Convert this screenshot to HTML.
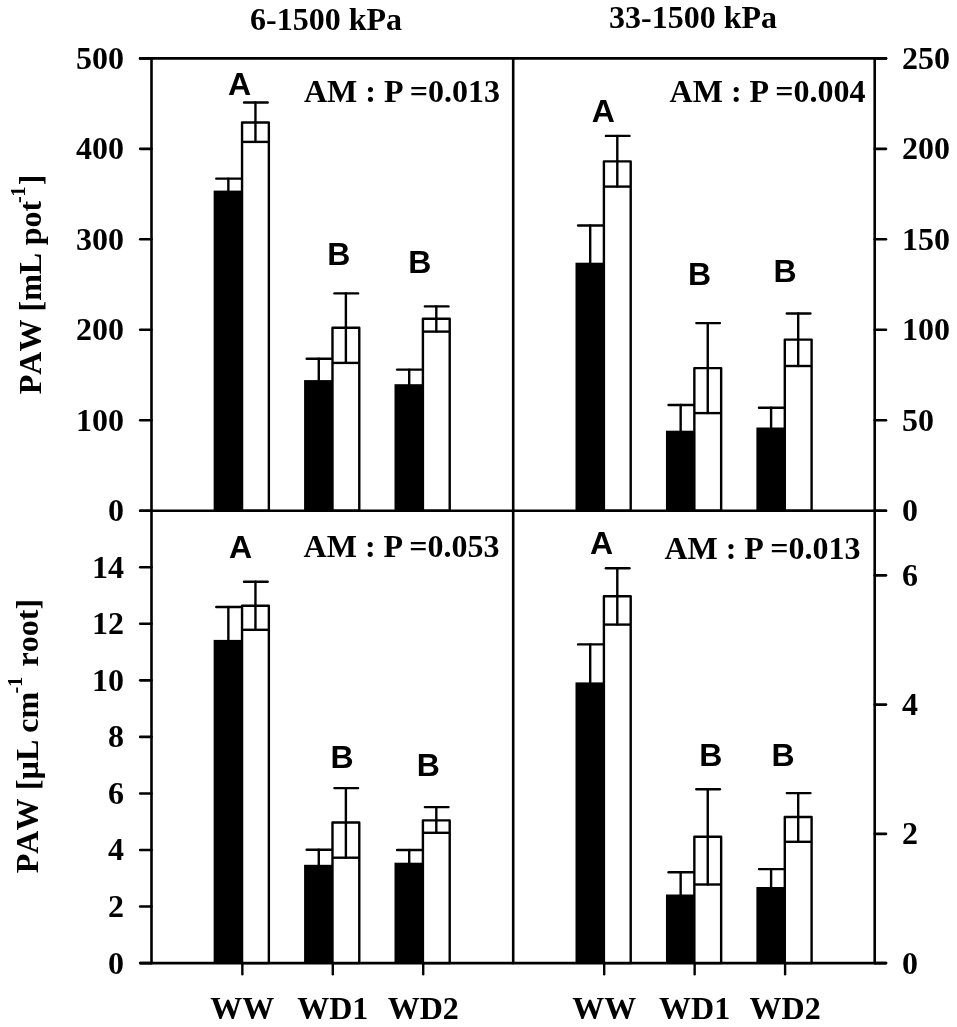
<!DOCTYPE html>
<html><head><meta charset="utf-8"><style>
html,body{margin:0;padding:0;background:#fff;width:957px;height:1027px;overflow:hidden}
svg{display:block;will-change:transform}
.sf{font-family:"Liberation Serif",serif;font-weight:bold;font-size:32px;fill:#000;stroke:none}
.nk{font-kerning:none}
.ss{font-family:"Liberation Sans",sans-serif;font-weight:bold;font-size:32px;fill:#000;stroke:none}
</style></head><body>
<svg width="957" height="1027" viewBox="0 0 957 1027" stroke="#000" fill="none">
<rect x="213.65" y="190.60" width="29.40" height="320.10" fill="#000" stroke="none"/>
<line x1="228.35" y1="191.60" x2="228.35" y2="178.60" stroke-width="2.4" stroke-linecap="round"/>
<line x1="216.25" y1="178.60" x2="242.05" y2="178.60" stroke-width="2.4" stroke-linecap="round"/>
<rect x="242.05" y="122.50" width="26.80" height="388.20" fill="#fff" stroke-width="2.4" stroke-linejoin="round"/>
<line x1="255.45" y1="102.50" x2="255.45" y2="141.90" stroke-width="2.4" stroke-linecap="round"/>
<line x1="244.05" y1="102.50" x2="267.65" y2="102.50" stroke-width="2.4" stroke-linecap="round"/>
<line x1="242.05" y1="141.90" x2="268.85" y2="141.90" stroke-width="2.4" stroke-linecap="butt"/>
<rect x="304.08" y="380.10" width="29.40" height="130.60" fill="#000" stroke="none"/>
<line x1="318.78" y1="381.10" x2="318.78" y2="358.80" stroke-width="2.4" stroke-linecap="round"/>
<line x1="306.68" y1="358.80" x2="332.48" y2="358.80" stroke-width="2.4" stroke-linecap="round"/>
<rect x="332.48" y="327.70" width="26.80" height="183.00" fill="#fff" stroke-width="2.4" stroke-linejoin="round"/>
<line x1="345.88" y1="293.40" x2="345.88" y2="362.90" stroke-width="2.4" stroke-linecap="round"/>
<line x1="334.48" y1="293.40" x2="358.08" y2="293.40" stroke-width="2.4" stroke-linecap="round"/>
<line x1="332.48" y1="362.90" x2="359.28" y2="362.90" stroke-width="2.4" stroke-linecap="butt"/>
<rect x="394.51" y="384.20" width="29.40" height="126.50" fill="#000" stroke="none"/>
<line x1="409.21" y1="385.20" x2="409.21" y2="369.60" stroke-width="2.4" stroke-linecap="round"/>
<line x1="397.11" y1="369.60" x2="422.91" y2="369.60" stroke-width="2.4" stroke-linecap="round"/>
<rect x="422.91" y="318.80" width="26.80" height="191.90" fill="#fff" stroke-width="2.4" stroke-linejoin="round"/>
<line x1="436.31" y1="306.40" x2="436.31" y2="331.60" stroke-width="2.4" stroke-linecap="round"/>
<line x1="424.91" y1="306.40" x2="448.51" y2="306.40" stroke-width="2.4" stroke-linecap="round"/>
<line x1="422.91" y1="331.60" x2="449.71" y2="331.60" stroke-width="2.4" stroke-linecap="butt"/>
<rect x="575.50" y="262.70" width="29.40" height="248.00" fill="#000" stroke="none"/>
<line x1="590.20" y1="263.70" x2="590.20" y2="225.50" stroke-width="2.4" stroke-linecap="round"/>
<line x1="578.10" y1="225.50" x2="603.90" y2="225.50" stroke-width="2.4" stroke-linecap="round"/>
<rect x="603.90" y="161.40" width="26.80" height="349.30" fill="#fff" stroke-width="2.4" stroke-linejoin="round"/>
<line x1="617.30" y1="135.90" x2="617.30" y2="186.60" stroke-width="2.4" stroke-linecap="round"/>
<line x1="605.90" y1="135.90" x2="629.50" y2="135.90" stroke-width="2.4" stroke-linecap="round"/>
<line x1="603.90" y1="186.60" x2="630.70" y2="186.60" stroke-width="2.4" stroke-linecap="butt"/>
<rect x="665.95" y="430.70" width="29.40" height="80.00" fill="#000" stroke="none"/>
<line x1="680.65" y1="431.70" x2="680.65" y2="405.00" stroke-width="2.4" stroke-linecap="round"/>
<line x1="668.55" y1="405.00" x2="694.35" y2="405.00" stroke-width="2.4" stroke-linecap="round"/>
<rect x="694.35" y="368.10" width="26.80" height="142.60" fill="#fff" stroke-width="2.4" stroke-linejoin="round"/>
<line x1="707.75" y1="323.10" x2="707.75" y2="413.10" stroke-width="2.4" stroke-linecap="round"/>
<line x1="696.35" y1="323.10" x2="719.95" y2="323.10" stroke-width="2.4" stroke-linecap="round"/>
<line x1="694.35" y1="413.10" x2="721.15" y2="413.10" stroke-width="2.4" stroke-linecap="butt"/>
<rect x="756.40" y="427.50" width="29.40" height="83.20" fill="#000" stroke="none"/>
<line x1="771.10" y1="428.50" x2="771.10" y2="407.80" stroke-width="2.4" stroke-linecap="round"/>
<line x1="759.00" y1="407.80" x2="784.80" y2="407.80" stroke-width="2.4" stroke-linecap="round"/>
<rect x="784.80" y="339.60" width="26.80" height="171.10" fill="#fff" stroke-width="2.4" stroke-linejoin="round"/>
<line x1="798.20" y1="313.50" x2="798.20" y2="366.00" stroke-width="2.4" stroke-linecap="round"/>
<line x1="786.80" y1="313.50" x2="810.40" y2="313.50" stroke-width="2.4" stroke-linecap="round"/>
<line x1="784.80" y1="366.00" x2="811.60" y2="366.00" stroke-width="2.4" stroke-linecap="butt"/>
<rect x="213.65" y="639.90" width="29.40" height="323.20" fill="#000" stroke="none"/>
<line x1="228.35" y1="640.90" x2="228.35" y2="607.00" stroke-width="2.4" stroke-linecap="round"/>
<line x1="216.25" y1="607.00" x2="242.05" y2="607.00" stroke-width="2.4" stroke-linecap="round"/>
<rect x="242.05" y="605.80" width="26.80" height="357.30" fill="#fff" stroke-width="2.4" stroke-linejoin="round"/>
<line x1="255.45" y1="581.80" x2="255.45" y2="629.80" stroke-width="2.4" stroke-linecap="round"/>
<line x1="244.05" y1="581.80" x2="267.65" y2="581.80" stroke-width="2.4" stroke-linecap="round"/>
<line x1="242.05" y1="629.80" x2="268.85" y2="629.80" stroke-width="2.4" stroke-linecap="butt"/>
<rect x="304.08" y="864.80" width="29.40" height="98.30" fill="#000" stroke="none"/>
<line x1="318.78" y1="865.80" x2="318.78" y2="849.70" stroke-width="2.4" stroke-linecap="round"/>
<line x1="306.68" y1="849.70" x2="332.48" y2="849.70" stroke-width="2.4" stroke-linecap="round"/>
<rect x="332.48" y="822.50" width="26.80" height="140.60" fill="#fff" stroke-width="2.4" stroke-linejoin="round"/>
<line x1="345.88" y1="788.10" x2="345.88" y2="857.70" stroke-width="2.4" stroke-linecap="round"/>
<line x1="334.48" y1="788.10" x2="358.08" y2="788.10" stroke-width="2.4" stroke-linecap="round"/>
<line x1="332.48" y1="857.70" x2="359.28" y2="857.70" stroke-width="2.4" stroke-linecap="butt"/>
<rect x="394.51" y="862.70" width="29.40" height="100.40" fill="#000" stroke="none"/>
<line x1="409.21" y1="863.70" x2="409.21" y2="850.00" stroke-width="2.4" stroke-linecap="round"/>
<line x1="397.11" y1="850.00" x2="422.91" y2="850.00" stroke-width="2.4" stroke-linecap="round"/>
<rect x="422.91" y="820.40" width="26.80" height="142.70" fill="#fff" stroke-width="2.4" stroke-linejoin="round"/>
<line x1="436.31" y1="807.10" x2="436.31" y2="832.80" stroke-width="2.4" stroke-linecap="round"/>
<line x1="424.91" y1="807.10" x2="448.51" y2="807.10" stroke-width="2.4" stroke-linecap="round"/>
<line x1="422.91" y1="832.80" x2="449.71" y2="832.80" stroke-width="2.4" stroke-linecap="butt"/>
<rect x="575.50" y="682.40" width="29.40" height="280.70" fill="#000" stroke="none"/>
<line x1="590.20" y1="683.40" x2="590.20" y2="644.40" stroke-width="2.4" stroke-linecap="round"/>
<line x1="578.10" y1="644.40" x2="603.90" y2="644.40" stroke-width="2.4" stroke-linecap="round"/>
<rect x="603.90" y="596.20" width="26.80" height="366.90" fill="#fff" stroke-width="2.4" stroke-linejoin="round"/>
<line x1="617.30" y1="568.20" x2="617.30" y2="624.60" stroke-width="2.4" stroke-linecap="round"/>
<line x1="605.90" y1="568.20" x2="629.50" y2="568.20" stroke-width="2.4" stroke-linecap="round"/>
<line x1="603.90" y1="624.60" x2="630.70" y2="624.60" stroke-width="2.4" stroke-linecap="butt"/>
<rect x="665.95" y="894.50" width="29.40" height="68.60" fill="#000" stroke="none"/>
<line x1="680.65" y1="895.50" x2="680.65" y2="872.30" stroke-width="2.4" stroke-linecap="round"/>
<line x1="668.55" y1="872.30" x2="694.35" y2="872.30" stroke-width="2.4" stroke-linecap="round"/>
<rect x="694.35" y="836.70" width="26.80" height="126.40" fill="#fff" stroke-width="2.4" stroke-linejoin="round"/>
<line x1="707.75" y1="789.20" x2="707.75" y2="884.50" stroke-width="2.4" stroke-linecap="round"/>
<line x1="696.35" y1="789.20" x2="719.95" y2="789.20" stroke-width="2.4" stroke-linecap="round"/>
<line x1="694.35" y1="884.50" x2="721.15" y2="884.50" stroke-width="2.4" stroke-linecap="butt"/>
<rect x="756.40" y="887.00" width="29.40" height="76.10" fill="#000" stroke="none"/>
<line x1="771.10" y1="888.00" x2="771.10" y2="869.10" stroke-width="2.4" stroke-linecap="round"/>
<line x1="759.00" y1="869.10" x2="784.80" y2="869.10" stroke-width="2.4" stroke-linecap="round"/>
<rect x="784.80" y="817.00" width="26.80" height="146.10" fill="#fff" stroke-width="2.4" stroke-linejoin="round"/>
<line x1="798.20" y1="793.10" x2="798.20" y2="841.80" stroke-width="2.4" stroke-linecap="round"/>
<line x1="786.80" y1="793.10" x2="810.40" y2="793.10" stroke-width="2.4" stroke-linecap="round"/>
<line x1="784.80" y1="841.80" x2="811.60" y2="841.80" stroke-width="2.4" stroke-linecap="butt"/>
<line x1="140.20" y1="58.40" x2="886.00" y2="58.40" stroke-width="2.6" stroke-linecap="round"/>
<line x1="140.20" y1="510.70" x2="886.00" y2="510.70" stroke-width="2.6" stroke-linecap="round"/>
<line x1="140.20" y1="963.10" x2="886.00" y2="963.10" stroke-width="2.6" stroke-linecap="round"/>
<line x1="151.50" y1="58.40" x2="151.50" y2="963.10" stroke-width="2.6" stroke-linecap="round"/>
<line x1="513.20" y1="58.40" x2="513.20" y2="963.10" stroke-width="2.6" stroke-linecap="round"/>
<line x1="874.70" y1="58.40" x2="874.70" y2="963.10" stroke-width="2.6" stroke-linecap="round"/>
<line x1="140.20" y1="510.70" x2="151.50" y2="510.70" stroke-width="2.6" stroke-linecap="round"/>
<text class="sf" x="124.00" y="521.10" text-anchor="end">0</text>
<line x1="140.20" y1="420.24" x2="151.50" y2="420.24" stroke-width="2.6" stroke-linecap="round"/>
<text class="sf" x="124.00" y="430.64" text-anchor="end">100</text>
<line x1="140.20" y1="329.78" x2="151.50" y2="329.78" stroke-width="2.6" stroke-linecap="round"/>
<text class="sf" x="124.00" y="340.18" text-anchor="end">200</text>
<line x1="140.20" y1="239.32" x2="151.50" y2="239.32" stroke-width="2.6" stroke-linecap="round"/>
<text class="sf" x="124.00" y="249.72" text-anchor="end">300</text>
<line x1="140.20" y1="148.86" x2="151.50" y2="148.86" stroke-width="2.6" stroke-linecap="round"/>
<text class="sf" x="124.00" y="159.26" text-anchor="end">400</text>
<line x1="140.20" y1="58.40" x2="151.50" y2="58.40" stroke-width="2.6" stroke-linecap="round"/>
<text class="sf" x="124.00" y="68.80" text-anchor="end">500</text>
<line x1="874.70" y1="510.70" x2="886.00" y2="510.70" stroke-width="2.6" stroke-linecap="round"/>
<text class="sf" x="902.00" y="521.10" text-anchor="start">0</text>
<line x1="874.70" y1="420.24" x2="886.00" y2="420.24" stroke-width="2.6" stroke-linecap="round"/>
<text class="sf" x="902.00" y="430.64" text-anchor="start">50</text>
<line x1="874.70" y1="329.78" x2="886.00" y2="329.78" stroke-width="2.6" stroke-linecap="round"/>
<text class="sf" x="902.00" y="340.18" text-anchor="start">100</text>
<line x1="874.70" y1="239.32" x2="886.00" y2="239.32" stroke-width="2.6" stroke-linecap="round"/>
<text class="sf" x="902.00" y="249.72" text-anchor="start">150</text>
<line x1="874.70" y1="148.86" x2="886.00" y2="148.86" stroke-width="2.6" stroke-linecap="round"/>
<text class="sf" x="902.00" y="159.26" text-anchor="start">200</text>
<line x1="874.70" y1="58.40" x2="886.00" y2="58.40" stroke-width="2.6" stroke-linecap="round"/>
<text class="sf" x="902.00" y="68.80" text-anchor="start">250</text>
<line x1="140.20" y1="963.10" x2="151.50" y2="963.10" stroke-width="2.6" stroke-linecap="round"/>
<text class="sf" x="124.00" y="973.50" text-anchor="end">0</text>
<line x1="140.20" y1="906.55" x2="151.50" y2="906.55" stroke-width="2.6" stroke-linecap="round"/>
<text class="sf" x="124.00" y="916.95" text-anchor="end">2</text>
<line x1="140.20" y1="850.00" x2="151.50" y2="850.00" stroke-width="2.6" stroke-linecap="round"/>
<text class="sf" x="124.00" y="860.40" text-anchor="end">4</text>
<line x1="140.20" y1="793.45" x2="151.50" y2="793.45" stroke-width="2.6" stroke-linecap="round"/>
<text class="sf" x="124.00" y="803.85" text-anchor="end">6</text>
<line x1="140.20" y1="736.90" x2="151.50" y2="736.90" stroke-width="2.6" stroke-linecap="round"/>
<text class="sf" x="124.00" y="747.30" text-anchor="end">8</text>
<line x1="140.20" y1="680.35" x2="151.50" y2="680.35" stroke-width="2.6" stroke-linecap="round"/>
<text class="sf" x="124.00" y="690.75" text-anchor="end">10</text>
<line x1="140.20" y1="623.80" x2="151.50" y2="623.80" stroke-width="2.6" stroke-linecap="round"/>
<text class="sf" x="124.00" y="634.20" text-anchor="end">12</text>
<line x1="140.20" y1="567.25" x2="151.50" y2="567.25" stroke-width="2.6" stroke-linecap="round"/>
<text class="sf" x="124.00" y="577.65" text-anchor="end">14</text>
<line x1="874.70" y1="963.10" x2="886.00" y2="963.10" stroke-width="2.6" stroke-linecap="round"/>
<text class="sf" x="902.00" y="973.50" text-anchor="start">0</text>
<line x1="874.70" y1="833.84" x2="886.00" y2="833.84" stroke-width="2.6" stroke-linecap="round"/>
<text class="sf" x="902.00" y="844.24" text-anchor="start">2</text>
<line x1="874.70" y1="704.59" x2="886.00" y2="704.59" stroke-width="2.6" stroke-linecap="round"/>
<text class="sf" x="902.00" y="714.99" text-anchor="start">4</text>
<line x1="874.70" y1="575.33" x2="886.00" y2="575.33" stroke-width="2.6" stroke-linecap="round"/>
<text class="sf" x="902.00" y="585.73" text-anchor="start">6</text>
<line x1="242.35" y1="963.10" x2="242.35" y2="974.20" stroke-width="2.4" stroke-linecap="round"/>
<line x1="332.78" y1="963.10" x2="332.78" y2="974.20" stroke-width="2.4" stroke-linecap="round"/>
<line x1="423.21" y1="963.10" x2="423.21" y2="974.20" stroke-width="2.4" stroke-linecap="round"/>
<line x1="604.20" y1="963.10" x2="604.20" y2="974.20" stroke-width="2.4" stroke-linecap="round"/>
<line x1="694.65" y1="963.10" x2="694.65" y2="974.20" stroke-width="2.4" stroke-linecap="round"/>
<line x1="785.10" y1="963.10" x2="785.10" y2="974.20" stroke-width="2.4" stroke-linecap="round"/>
<text class="sf" x="242.35" y="1019.30" text-anchor="middle">WW</text>
<text class="sf" x="332.78" y="1019.30" text-anchor="middle">WD1</text>
<text class="sf" x="423.21" y="1019.30" text-anchor="middle">WD2</text>
<text class="sf" x="604.20" y="1019.30" text-anchor="middle">WW</text>
<text class="sf" x="694.65" y="1019.30" text-anchor="middle">WD1</text>
<text class="sf" x="785.10" y="1019.30" text-anchor="middle">WD2</text>
<text class="sf" x="250.10" y="30.20" text-anchor="start">6-1500 kPa</text>
<text class="sf" x="609.10" y="27.80" text-anchor="start">33-1500 kPa</text>
<text class="sf" x="304.00" y="101.70" text-anchor="start">AM : P =0.013</text>
<text class="sf" x="669.60" y="101.70" text-anchor="start">AM : P =0.004</text>
<text class="sf" x="303.60" y="556.70" text-anchor="start">AM : P =0.053</text>
<text class="sf" x="664.40" y="559.00" text-anchor="start">AM : P =0.013</text>
<text class="ss" x="239.60" y="95.00" text-anchor="middle">A</text>
<text class="ss" x="338.70" y="265.00" text-anchor="middle">B</text>
<text class="ss" x="419.90" y="272.60" text-anchor="middle">B</text>
<text class="ss" x="603.20" y="121.50" text-anchor="middle">A</text>
<text class="ss" x="699.60" y="284.60" text-anchor="middle">B</text>
<text class="ss" x="785.10" y="281.80" text-anchor="middle">B</text>
<text class="ss" x="240.50" y="558.20" text-anchor="middle">A</text>
<text class="ss" x="342.00" y="768.40" text-anchor="middle">B</text>
<text class="ss" x="428.20" y="775.50" text-anchor="middle">B</text>
<text class="ss" x="601.60" y="553.60" text-anchor="middle">A</text>
<text class="ss" x="710.80" y="765.60" text-anchor="middle">B</text>
<text class="ss" x="783.00" y="765.60" text-anchor="middle">B</text>
<text class="sf nk" style="font-size:32px" transform="translate(40.90,394.25) rotate(-90)">PAW</text>
<text class="sf nk" style="font-size:32px" transform="translate(40.90,311.50) rotate(-90)">[mL</text>
<text class="sf nk" style="font-size:32px" transform="translate(40.90,245.30) rotate(-90)">pot</text>
<text class="sf nk" style="font-size:20px" transform="translate(24.50,203.10) rotate(-90)">-1</text>
<text class="sf nk" style="font-size:32px" transform="translate(40.90,185.20) rotate(-90)">]</text>
<text class="sf nk" style="font-size:32px" transform="translate(37.70,873.25) rotate(-90)">PAW</text>
<text class="sf nk" style="font-size:32px" transform="translate(37.70,790.10) rotate(-90)">[µL</text>
<text class="sf nk" style="font-size:32px" transform="translate(37.70,732.80) rotate(-90)">cm</text>
<text class="sf nk" style="font-size:20px" transform="translate(21.50,693.50) rotate(-90)">-1</text>
<text class="sf nk" style="font-size:32px" transform="translate(37.70,666.40) rotate(-90)">root]</text>
</svg>
</body></html>
